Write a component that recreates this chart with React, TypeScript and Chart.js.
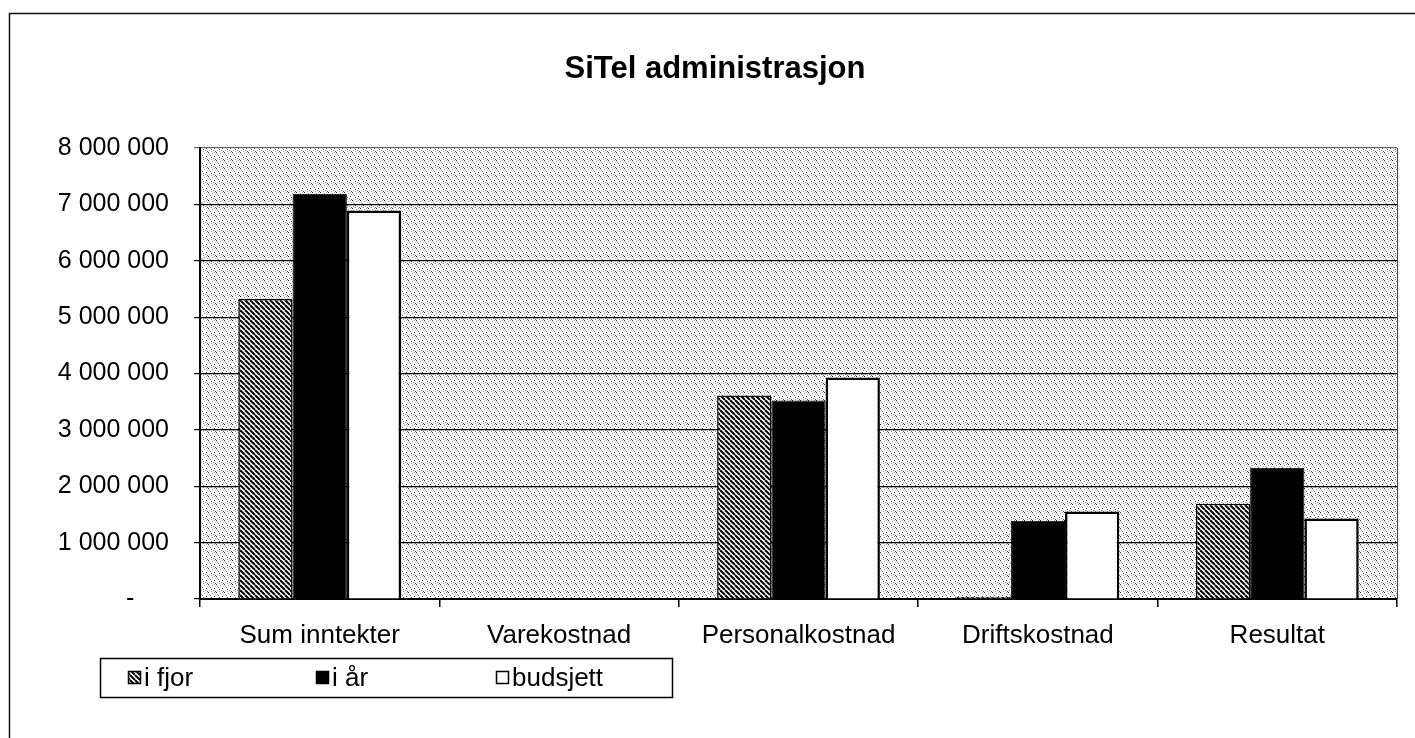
import React, { useEffect, useRef } from "react";
import { Chart, registerables } from "chart.js";

Chart.register(...registerables);

const TITLE = "SiTel administrasjon";
const categories = ["Sum inntekter", "Varekostnad", "Personalkostnad", "Driftskostnad", "Resultat"];
const seriesLabels = ["i fjor", "i år", "budsjett"];
const iFjor = [5320000, 0, 3610000, 40000, 1690000];
const iAar = [7190000, 0, 3520000, 1390000, 2330000];
const budsjett = [6890000, 0, 3930000, 1550000, 1430000];
const yMin = 0;
const yMax = 8000000;
const yStep = 1000000;

const FONT = "'Liberation Sans', Arial, sans-serif";

function fmt(v: number): string {
  if (v === 0) return "-     ";
  return String(Math.round(v)).replace(/\B(?=(\d{3})+(?!\d))/g, " ");
}

function makeHatch(): CanvasPattern | string {
  const s = 5;
  const c = document.createElement("canvas");
  c.width = s;
  c.height = s;
  const g = c.getContext("2d");
  if (!g) return "#666";
  g.fillStyle = "#fff";
  g.fillRect(0, 0, s, s);
  g.strokeStyle = "#000";
  g.lineWidth = 2;
  for (const k of [-s, 0, s]) {
    g.beginPath();
    g.moveTo(k, 0);
    g.lineTo(k + s, s);
    g.stroke();
  }
  return g.createPattern(c, "repeat") || "#666";
}

function makeStipple(): CanvasPattern | string {
  const s = 8;
  const c = document.createElement("canvas");
  c.width = s;
  c.height = s;
  const g = c.getContext("2d");
  if (!g) return "#e4e4e4";
  g.fillStyle = "#fff";
  g.fillRect(0, 0, s, s);
  const dots: [number, number, string][] = [
    [0, 0, "#222"], [4, 1, "#999"], [2, 3, "#777"], [6, 4, "#333"],
    [1, 6, "#aaa"], [5, 6, "#888"], [7, 2, "#bbb"], [3, 5, "#555"],
    [6, 0, "#aaa"], [1, 2, "#bbb"], [3, 7, "#999"], [7, 7, "#666"],
  ];
  for (const [x, y, col] of dots) {
    g.fillStyle = col;
    g.fillRect(x, y, 1, 1);
  }
  return g.createPattern(c, "repeat") || "#e4e4e4";
}

export default function App() {
  const ref = useRef<HTMLCanvasElement | null>(null);

  useEffect(() => {
    const canvas = ref.current;
    if (!canvas) return;
    const hatch = makeHatch();
    const stipple = makeStipple();

    const decor = {
      id: "decor",
      beforeDraw(chart: any) {
        const { ctx, chartArea } = chart;
        ctx.save();
        ctx.fillStyle = "#fff";
        ctx.fillRect(0, 0, chart.width, chart.height);
        ctx.fillStyle = stipple;
        ctx.fillRect(chartArea.left, chartArea.top, chartArea.right - chartArea.left, chartArea.bottom - chartArea.top);
        // outer frame
        ctx.strokeStyle = "#111";
        ctx.lineWidth = 1.5;
        ctx.strokeRect(9.5, 13.5, chart.width + 20, chart.height + 20);
        // title
        ctx.fillStyle = "#000";
        ctx.font = `bold 31px ${FONT}`;
        ctx.textAlign = "center";
        ctx.textBaseline = "alphabetic";
        ctx.fillText(TITLE, 715, 78);
        ctx.restore();
      },
      afterDraw(chart: any) {
        const { ctx, chartArea } = chart;
        ctx.save();
        ctx.strokeStyle = "#444";
        ctx.lineWidth = 1;
        ctx.beginPath();
        ctx.moveTo(chartArea.right + 0.5, chartArea.top);
        ctx.lineTo(chartArea.right + 0.5, chartArea.bottom);
        ctx.stroke();
        // legend box
        const bx = 100, by = 658, bw = 572, bh = 39;
        ctx.strokeStyle = "#000";
        ctx.lineWidth = 1.5;
        ctx.strokeRect(bx + 0.5, by + 0.5, bw, bh);
        const itemX = [128, 316, 496];
        const cy = by + bh / 2;
        ctx.font = `26px ${FONT}`;
        ctx.textAlign = "left";
        ctx.textBaseline = "middle";
        chart.data.datasets.forEach((ds: any, i: number) => {
          const x = itemX[i];
          const sz = 13;
          ctx.fillStyle = ds.backgroundColor;
          ctx.fillRect(x, cy - sz / 2, sz, sz);
          ctx.strokeStyle = "#000";
          ctx.lineWidth = 1.5;
          ctx.strokeRect(x + 0.5, cy - sz / 2 + 0.5, sz - 1, sz - 1);
          ctx.fillStyle = "#000";
          ctx.fillText(ds.label, x + sz + 3, cy + 1);
        });
        ctx.restore();
      },
    };

    const chart = new Chart(canvas, {
      type: "bar",
      data: {
        labels: categories,
        datasets: [
          { label: seriesLabels[0], data: iFjor, backgroundColor: hatch as any, borderColor: "#000", borderWidth: 1.5 },
          { label: seriesLabels[1], data: iAar, backgroundColor: "#000", borderColor: "#000", borderWidth: 1 },
          { label: seriesLabels[2], data: budsjett, backgroundColor: "#fff", borderColor: "#000", borderWidth: 2.5 },
        ],
      },
      options: {
        responsive: false,
        animation: false,
        devicePixelRatio: 1,
        layout: { padding: { top: 148, right: 18, bottom: 0, left: 0 } },
        datasets: { bar: { categoryPercentage: 0.68, barPercentage: 1, borderSkipped: "start" } },
        plugins: { legend: { display: false }, title: { display: false }, tooltip: { enabled: false } },
        scales: {
          x: {
            afterFit: (s: any) => { s.height = 139; },
            grid: { display: true, drawOnChartArea: false, drawTicks: true, tickLength: 8, color: "#000", lineWidth: 1.5, offset: true },
            border: { display: true, color: "#000", width: 2 },
            ticks: { color: "#000", font: { family: FONT, size: 26 }, padding: 13, maxRotation: 0, autoSkip: false },
          },
          y: {
            min: yMin,
            max: yMax,
            afterFit: (s: any) => { s.width = 200; },
            grid: {
              color: (c: any) => (c.tick && c.tick.value === yMax ? "#666" : "#000"),
              lineWidth: 1.2,
              tickLength: 6,
              drawTicks: true,
            },
            border: { display: true, color: "#000", width: 2 },
            ticks: {
              stepSize: yStep,
              color: "#000",
              font: { family: FONT, size: 25 },
              padding: 25,
              callback: (v: any) => fmt(Number(v)),
            },
          },
        },
      },
      plugins: [decor],
    });
    return () => chart.destroy();
  }, []);

  return (
    <div style={{ position: "fixed", left: 0, top: 0, width: 1415, height: 738, background: "#fff" }}>
      <canvas ref={ref} width={1415} height={738} style={{ display: "block", width: 1415, height: 738 }} />
    </div>
  );
}
